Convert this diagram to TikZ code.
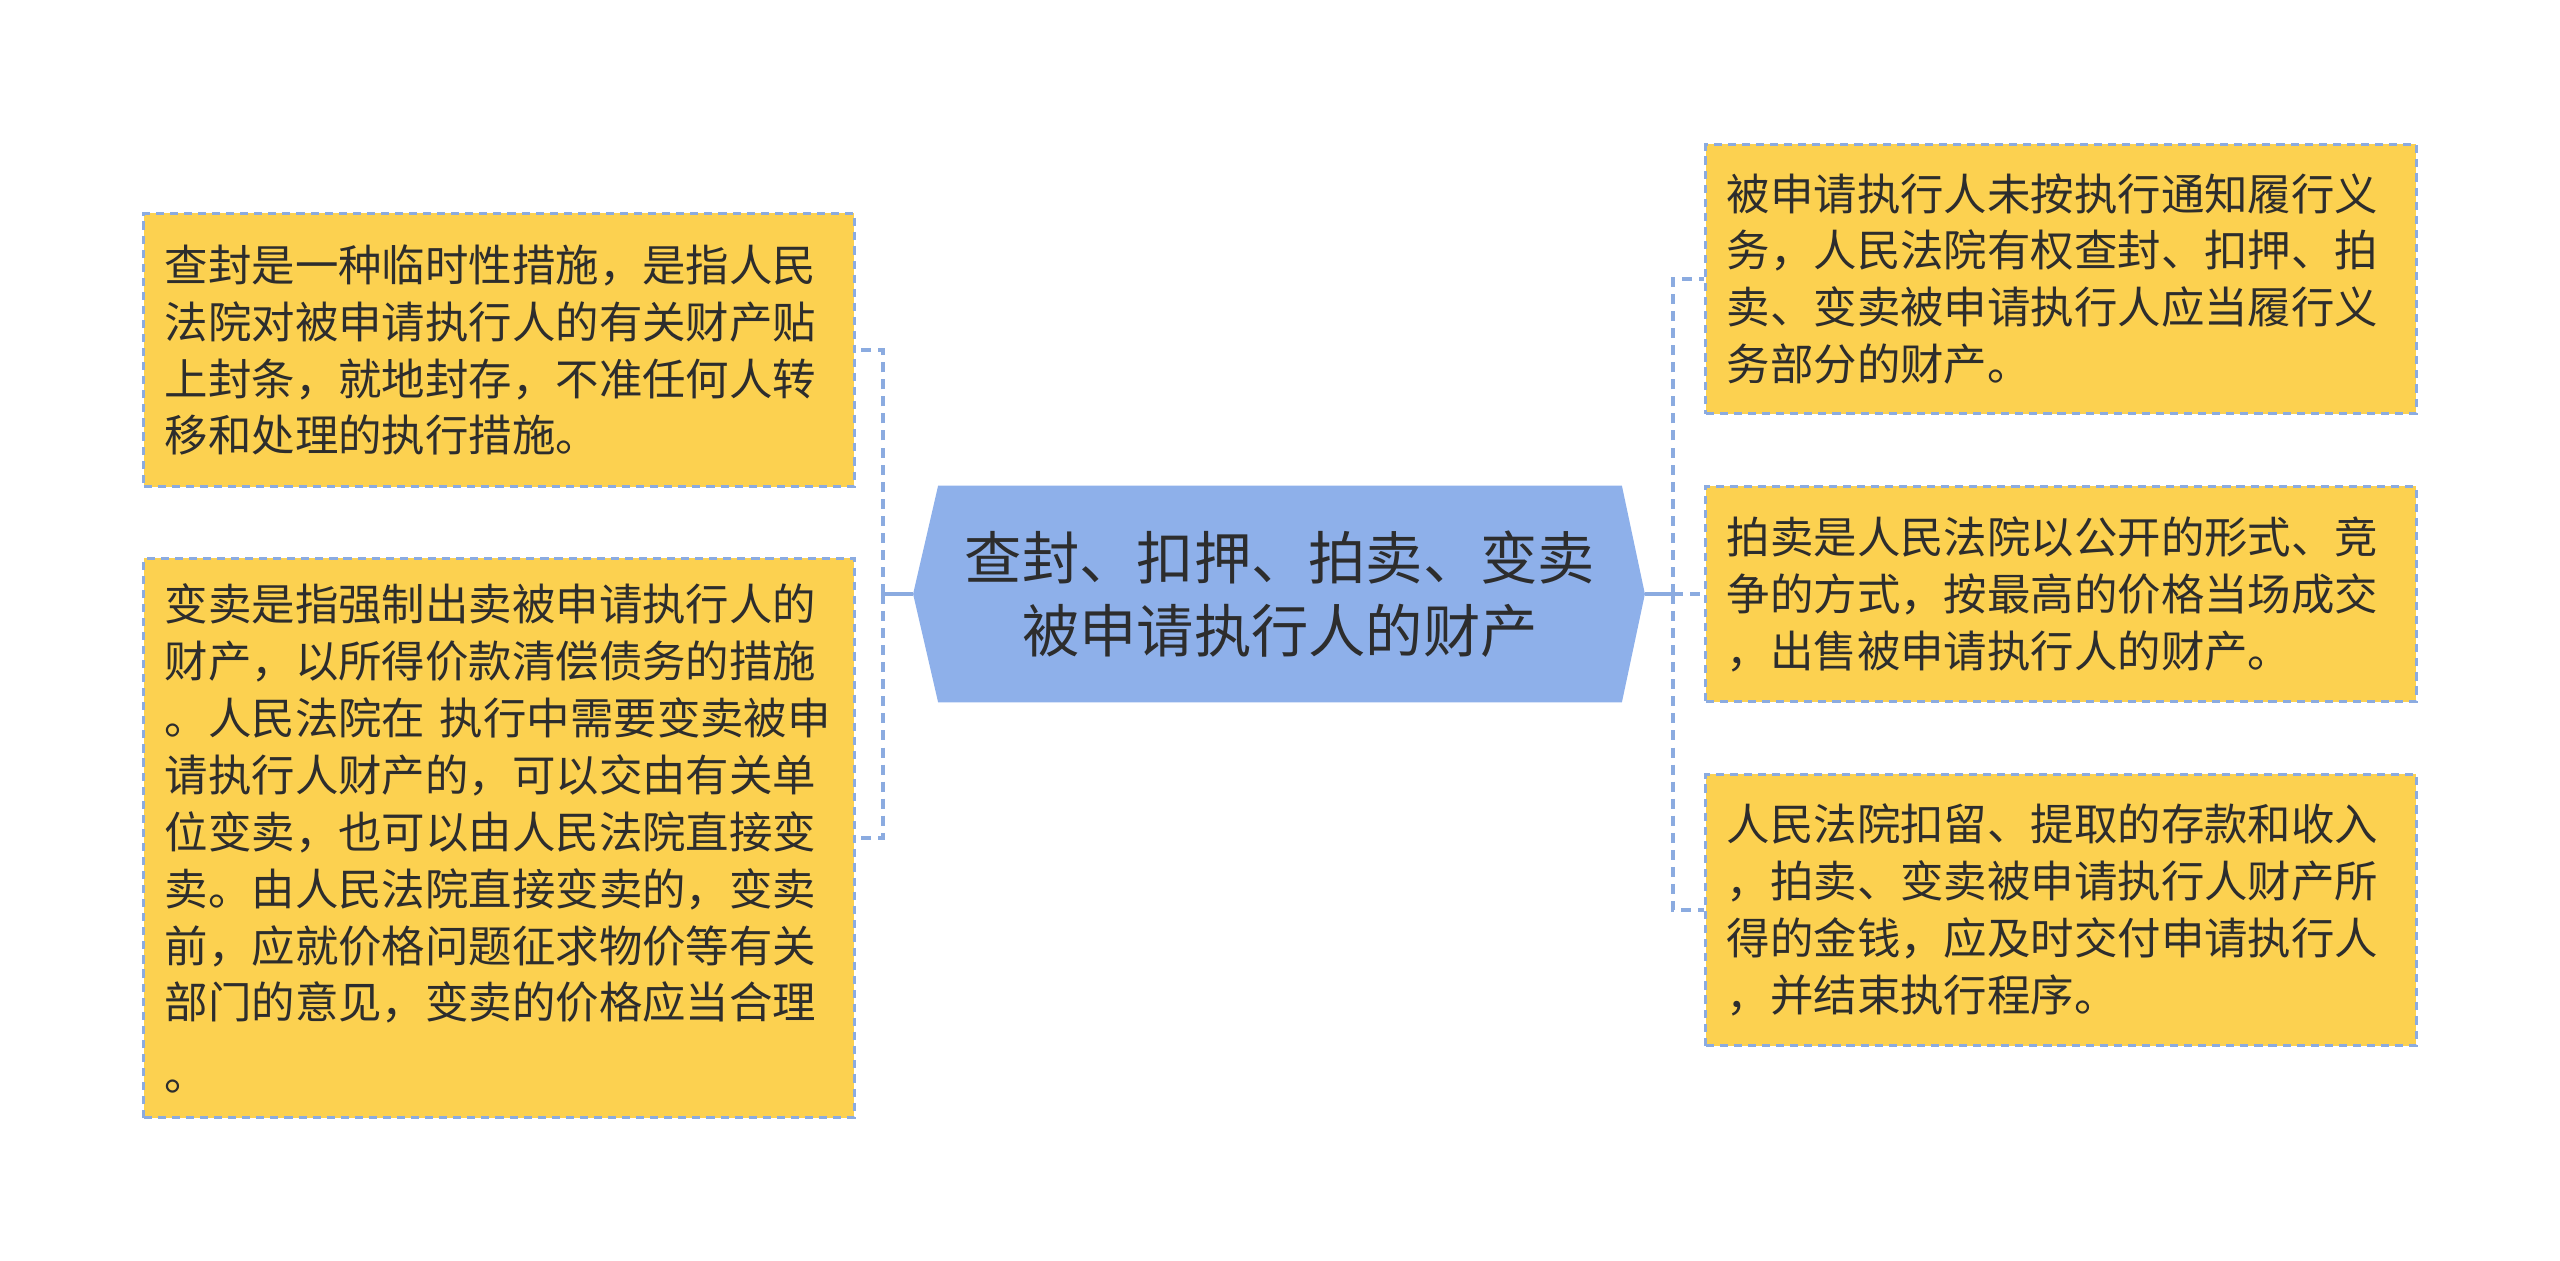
\documentclass[tikz,border=0pt]{standalone}
\usepackage{fontspec}
\setmainfont{Noto Sans CJK SC}
\usepackage{tikz}
\usetikzlibrary{calc, positioning, backgrounds}
\definecolor{boxfill}{RGB}{252,209,80}
\definecolor{linkblue}{RGB}{139,171,224}
\definecolor{centrefill}{RGB}{142,176,234}
\definecolor{inkgrey}{RGB}{45,45,45}
\def\boxwidth{7.10cm}
\tikzstyle{leaf}=[rectangle, fill=boxfill, draw=linkblue, line width=0.75pt, dash pattern=on 2.3pt off 1.7pt, minimum width=\boxwidth, text width=6.68cm, inner xsep=0.21cm, inner ysep=0pt, align=left, text=inkgrey, font=\fontsize{12.35pt}{16.2pt}\selectfont]
\tikzstyle{centre}=[rectangle, minimum width=6.82cm, minimum height=2.15cm, inner sep=0pt, align=center, text=inkgrey, font=\fontsize{16.3pt}{20.8pt}\selectfont]
\tikzstyle{link}=[draw=linkblue, line width=1.2pt]
\tikzstyle{dash link}=[link, dash pattern=on 2.85pt off 2pt]

\begin{document}
\begin{tikzpicture}[x=0.01cm, y=-0.01cm]
		\useasboundingbox (0,0) rectangle (2560,1261);
		\def\leftx{499}
		\def\rightx{2061}
		% Draw the central node
		\node[centre] (C) at (1280,594) {查封、扣押、拍卖、变卖\\被申请执行人的财产};
		\coordinate (C-w) at ($(C.west)+(-25,0)$);
		\coordinate (C-e) at ($(C.east)+(23,0)$);
		\begin{scope}[on background layer]
		\fill[centrefill] (C.north west) -- (C.north east) -- (C-e) -- (C.south east) -- (C.south west) -- (C-w) -- cycle;
		\end{scope}

		% Draw the left leaves
		\node[leaf, minimum height=2.73cm] (L-1) at (\leftx,350) {查封是一种临时性措施，是指人民\\法院对被申请执行人的有关财产贴\\上封条，就地封存，不准任何人转\\移和处理的执行措施。};
		\node[leaf, minimum height=5.59cm] (L-2) at (\leftx,838) {变卖是指强制出卖被申请执行人的\\财产，以所得价款清偿债务的措施\\。人民法院在~执行中需要变卖被申\\请执行人财产的，可以交由有关单\\位变卖，也可以由人民法院直接变\\卖。由人民法院直接变卖的，变卖\\前，应就价格问题征求物价等有关\\部门的意见，变卖的价格应当合理\\[4pt]。};

		% Draw the right leaves
		\node[leaf, minimum height=2.69cm] (R-1) at (\rightx,279) {被申请执行人未按执行通知履行义\\务，人民法院有权查封、扣押、拍\\卖、变卖被申请执行人应当履行义\\务部分的财产。};
		\node[leaf, minimum height=2.15cm] (R-2) at (\rightx,594) {拍卖是人民法院以公开的形式、竞\\争的方式，按最高的价格当场成交\\，出售被申请执行人的财产。};
		\node[leaf, minimum height=2.71cm] (R-3) at (\rightx,910) {人民法院扣留、提取的存款和收入\\，拍卖、变卖被申请执行人财产所\\得的金钱，应及时交付申请执行人\\，并结束执行程序。};

		% Connect the central node with every leaf
		\coordinate (J-l) at (883,594);
		\coordinate (J-r) at (1673,594);
		\draw[link] (C-w) -- (J-l);
		\draw[link] (C-e) -- (J-r);
		\foreach \dest in {1,2}
		\draw[dash link] (J-l) |- (L-\dest.east);
		\foreach \dest in {1,...,3}
		\draw[dash link] (J-r) |- (R-\dest.west);
	\end{tikzpicture}
\end{document}
